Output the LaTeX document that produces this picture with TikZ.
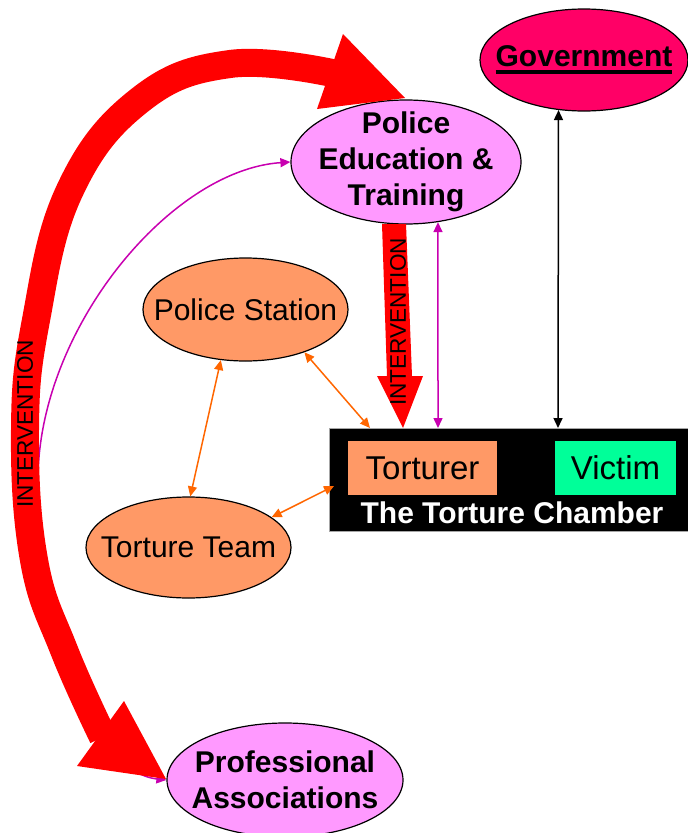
\documentclass[tikz,border=0pt]{standalone}
\usepackage{fontspec}
\setmainfont{Liberation Sans}
\usetikzlibrary{shapes.geometric,arrows.meta}
\definecolor{govc}{HTML}{FF0066}
\definecolor{pinkc}{HTML}{FF99FF}
\definecolor{salmonc}{HTML}{FF9966}
\definecolor{victc}{HTML}{00FF99}
\definecolor{magc}{HTML}{C800B0}
\definecolor{orngc}{HTML}{FF6600}
\definecolor{redc}{HTML}{FF0000}
\newcommand\thickul[1]{\setbox0\hbox{#1}\rlap{\rule[-7.3pt]{\wd0}{4pt}}\box0}
\begin{document}
\begin{tikzpicture}[x=1pt,y=-1pt,
  ell/.style={ellipse, draw=black, line width=1.2pt, inner sep=0pt},
  lbl/.style={font=\fontsize{30}{36}\selectfont, align=center, inner sep=0pt},
  boldlbl/.style={font=\fontsize{30}{36}\selectfont\bfseries, align=center, inner sep=0pt},
  tw/.style={{Triangle[length=10pt,width=9pt]}-{Triangle[length=10pt,width=9pt]}, line width=1.5pt},
  intv/.style={rotate=90, font=\fontsize{22.6}{27}\selectfont, inner sep=0pt},
  boxtxt/.style={inner sep=0pt, font=\fontsize{33}{40}\selectfont}
]
\useasboundingbox (0,0) rectangle (688,833);

% nodes
\node[ell, fill=govc, minimum width=208pt, minimum height=102pt,
  label={[boldlbl]center:\thickul{Government}}] (gov) at (584,60) {};
\node[ell, fill=pinkc, minimum width=230pt, minimum height=124pt,
  label={[boldlbl]center:Police\\Education \&\\Training}] (pet) at (406,162) {};
\node[ell, fill=salmonc, minimum width=205pt, minimum height=103pt,
  label={[lbl]center:Police Station}] (ps) at (245.5,309.5) {};
\node[ell, fill=salmonc, minimum width=205pt, minimum height=101pt,
  label={[lbl]center:Torture Team}] (tt) at (188.5,547.5) {};
\node[ell, fill=pinkc, minimum width=236pt, minimum height=114pt,
  label={[boldlbl]center:Professional\\Associations}] (pa) at (285,780) {};

\node[fill=black, draw=gray!70, line width=0.8pt, minimum width=359pt, minimum height=103pt, inner sep=0pt] (tc) at (508.5,479.5) {};
\node[boxtxt, fill=salmonc, minimum width=149pt, minimum height=54pt] (tr) at (422.5,468) {Torturer};
\node[boxtxt, fill=victc, minimum width=121pt, minimum height=54pt] (vi) at (615.5,468) {Victim};
\node[text=white, font=\fontsize{30}{36}\selectfont\bfseries, inner sep=0pt] (tcl) at (512,513) {The Torture Chamber};

\coordinate (c1) at (370,428);
\coordinate (c2) at (438,428);
\coordinate (c3) at (558,428);
\coordinate (c4) at (334,486);

% thin connectors
\draw[tw, orngc] (ps.-116) -- (tt.88);
\draw[tw, orngc] (ps.-36.5) -- (c1);
\draw[tw, orngc] (tt.20.5) -- (c4);
\draw[tw, magc] (pet.-62) -- (c2);
\draw[tw, black] (gov.-117.5) -- (c3);
\draw[tw, magc] (pa.west) .. controls (95,772) and (38,640) .. (38,480)
  .. controls (38,330) and (170,170) .. (pet.west);

% thick red intervention arrow (down)
\fill[redc] (382,224) -- (406,224) -- (412,376) -- (423,376) -- (403,428) -- (377,376) -- (387,376) -- cycle;
\node[intv] (iv1) at (398,322) {INTERVENTION};

% thick red curved double arrow
\draw[redc, line width=28pt] plot[smooth, tension=0.7] coordinates {
  (332,73) (230,64) (140,100) (70,190) (36,320) (25,430) (34,560) (64,650) (103,737)};
\fill[redc] (343,34) -- (405,98) -- (317,109) -- cycle;
\fill[redc] (124,701) -- (166,779) -- (77,766) -- cycle;
\node[intv] (iv2) at (25,424) {INTERVENTION};
\end{tikzpicture}
\end{document}
